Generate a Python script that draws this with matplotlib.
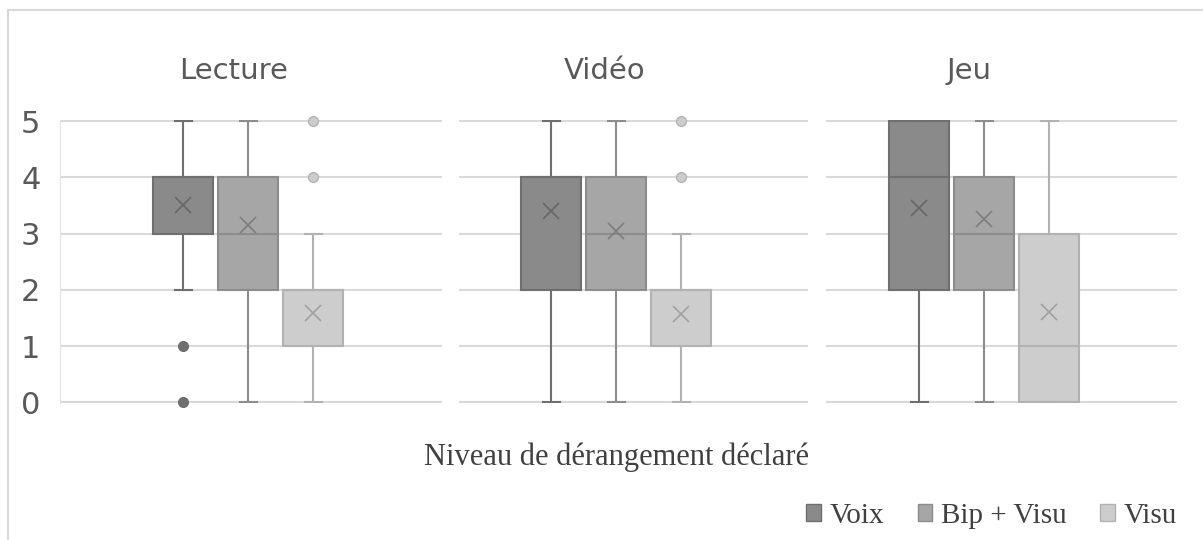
import matplotlib.pyplot as plt
from matplotlib.patches import Patch, Rectangle

# panels and series
panels = ["Lecture", "Vidéo", "Jeu"]
series = ["Voix", "Bip + Visu", "Visu"]

# box stats per panel, one value per series (Voix, Bip + Visu, Visu)
whislo = [[2, 0, 0], [0, 0, 0], [0, 0, 0]]
q1 = [[3, 2, 1], [2, 2, 1], [2, 2, 0]]
med = [[4, 3, 2], [4, 3, 2], [4, 3, 1]]
q3 = [[4, 4, 2], [4, 4, 2], [5, 4, 3]]
whishi = [[5, 5, 3], [5, 5, 3], [5, 5, 5]]
means = [[3.5, 3.15, 1.58], [3.4, 3.05, 1.57], [3.45, 3.25, 1.6]]
fliers = [[[1, 0], [], [4, 5]], [[], [], [4, 5]], [[], [], []]]

fills = ["#8a8a8a", "#a6a6a6", "#cdcdcd"]
edges = ["#6f6f6f", "#8c8c8c", "#b2b2b2"]
xcol = ["#666666", "#7d7d7d", "#a0a0a0"]

W, H = 1203, 540
fig = plt.figure(figsize=(W / 100, H / 100), dpi=100)

# outer chart border (partly cut by the image edge)
fig.patches.append(Rectangle((8 / W, -0.05), 1.2, 1 - 10 / H + 0.05,
                             transform=fig.transFigure, fill=False,
                             edgecolor="#d9d9d9", linewidth=1.5))

# axes boxes in pixels: left, right ; x offset of first box center
px = [(60, 442, 123), (459, 808, 92), (826, 1177, 93)]
title_x = [234, 605, 969]
step = 65.0
ybot, ytop = 403.4, 119.9

for i, name in enumerate(panels):
    l, r, off = px[i]
    ax = fig.add_axes([l / W, 1 - ybot / H, (r - l) / W, (ybot - ytop) / H])
    left = 1 - off / step
    ax.set_xlim(left, left + (r - l) / step)
    ax.set_ylim(-0.02, 5.02)
    for j in range(3):
        st = dict(whislo=whislo[i][j], q1=q1[i][j], med=med[i][j], q3=q3[i][j],
                  whishi=whishi[i][j], mean=means[i][j], fliers=fliers[i][j])
        ax.bxp([st], positions=[j + 1], widths=60 / step,
               capwidths=17 / step, patch_artist=True, showmeans=True,
               boxprops=dict(facecolor=fills[j], edgecolor=edges[j], linewidth=1.5),
               medianprops=dict(color=edges[j], linewidth=1.5),
               whiskerprops=dict(color=edges[j], linewidth=1.5),
               capprops=dict(color=edges[j], linewidth=1.5),
               meanprops=dict(marker="x", markersize=12, markeredgecolor=xcol[j],
                              markeredgewidth=1.2),
               flierprops=dict(marker="o", markersize=7,
                               markerfacecolor=fills[j] if j else edges[j],
                               markeredgecolor=edges[j], clip_on=False),
               manage_ticks=False, zorder=3)
    ax.set_yticks(range(6))
    ax.grid(axis="y", color="#d9d9d9", linewidth=1.5, zorder=0)
    ax.set_axisbelow(True)
    ax.set_xticks([])
    for s in ["top", "right", "bottom", "left"]:
        ax.spines[s].set_visible(False)
    if i == 0:
        ax.spines["left"].set_visible(True)
        ax.spines["left"].set_color("#e3e3e3")
        ax.tick_params(axis="y", length=0, labelsize=22, labelcolor="#595959", pad=14)
    else:
        ax.tick_params(axis="y", length=0, labelleft=False)
    fig.text(title_x[i] / W, 1 - 79 / H, name, ha="center", va="baseline",
             fontsize=21, color="#595959")

fig.text(616 / W, 1 - 465 / H, "Niveau de dérangement déclaré", ha="center",
         va="baseline", fontsize=22, family="Liberation Serif", color="#404040")

handles = [Patch(facecolor=fills[j], edgecolor=edges[j]) for j in range(3)]
fig.legend(handles, series, loc="center right", bbox_to_anchor=(1177 / W, 1 - 516 / H),
           ncol=3, frameon=False, prop=dict(family="Liberation Serif", size=21),
           handlelength=0.5, handleheight=0.5, handletextpad=0.3, columnspacing=1.15,
           labelcolor="#404040", borderaxespad=0, borderpad=0)

fig.savefig("out.png", dpi=100)
